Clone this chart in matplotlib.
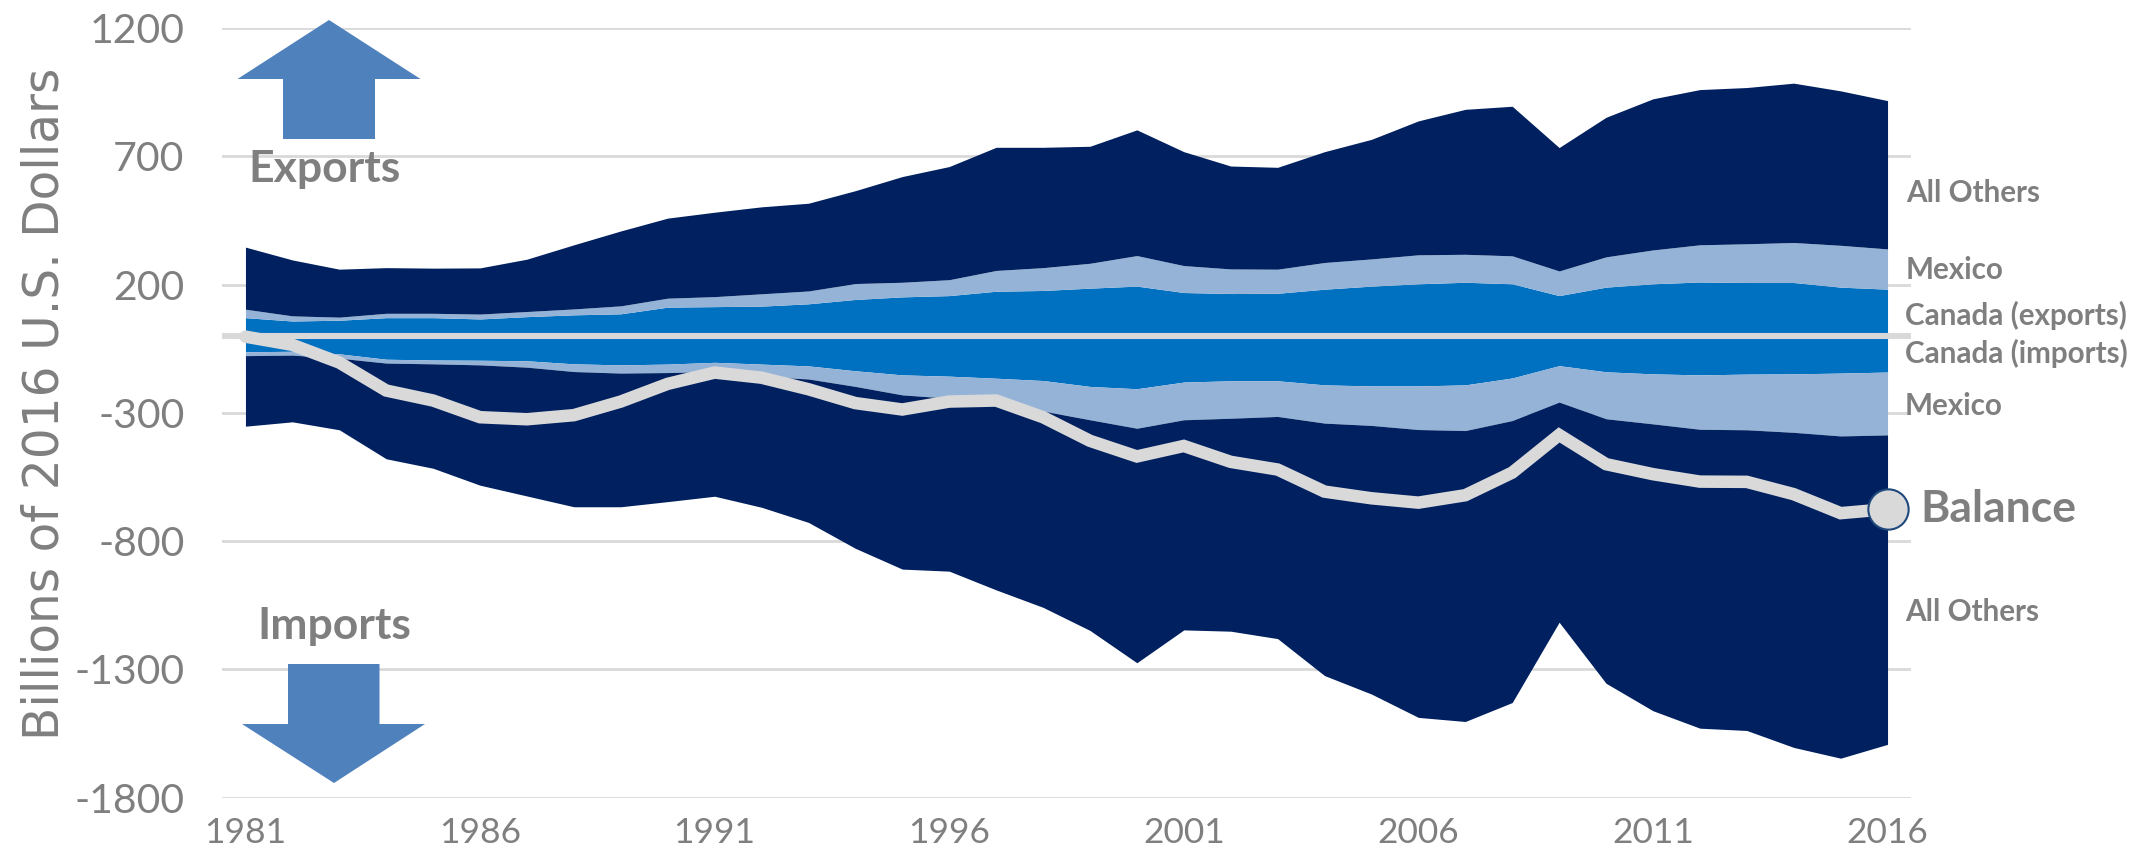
import matplotlib
matplotlib.use("Agg")
import matplotlib.pyplot as plt
from matplotlib.patches import Polygon

W, H = 2154, 857

years = list(range(1981, 2017))

# edges of the stacked bands, billions of 2016 dollars
exports_canada = [71, 58, 61, 71, 71, 66, 75, 82, 86, 112, 114, 116, 125, 142, 152, 157, 174, 177,
                  186, 194, 169, 165, 166, 182, 194, 203, 209, 203, 157, 190, 203, 210, 208, 208, 190, 182]
exports_mexico = [104, 78, 73, 88, 88, 85, 95, 105, 117, 147, 153, 164, 175, 204, 209, 219, 255, 266,
                  283, 313, 274, 261, 260, 286, 300, 316, 318, 312, 253, 308, 335, 355, 359, 364, 353, 339]
exports_total = [346, 296, 260, 266, 264, 265, 299, 355, 409, 459, 482, 503, 517, 566, 621, 660, 735, 735,
                 739, 803, 718, 662, 657, 718, 766, 838, 883, 895, 734, 852, 924, 960, 968, 985, 955, 917]
imports_canada = [-62, -60, -70, -91, -94, -95, -97, -109, -113, -110, -103, -110, -117, -136, -152, -157, -165, -174,
                  -197, -206, -180, -175, -175, -191, -195, -195, -191, -164, -116, -140, -148, -152, -149, -148, -145, -141]
imports_mexico = [-77, -75, -87, -106, -109, -113, -122, -139, -145, -143, -139, -158, -168, -197, -230, -243, -262, -293,
                  -327, -360, -327, -321, -314, -340, -349, -365, -369, -330, -258, -323, -343, -364, -366, -376, -390, -386]
imports_total = [-352, -335, -366, -479, -516, -582, -624, -666, -666, -646, -625, -668, -727, -828, -909, -917, -990, -1058,
                 -1148, -1274, -1146, -1151, -1180, -1324, -1396, -1487, -1503, -1429, -1116, -1354, -1461, -1529, -1538, -1604, -1646, -1592]
balance = [-3, -35, -104, -213, -252, -317, -325, -309, -256, -187, -143, -163, -208, -262, -287, -256, -252, -317,
           -409, -470, -429, -491, -521, -607, -633, -650, -621, -533, -386, -500, -539, -568, -569, -617, -691, -675]

y_ticks = [1200, 700, 200, -300, -800, -1300, -1800]
x_ticks = [1981, 1986, 1991, 1996, 2001, 2006, 2011, 2016]

NAVY = "#002060"
BLUE = "#0070C0"
LIGHT = "#95B3D7"
GRID = "#D9D9D9"
GREY = "#7F7F7F"
ARROW = "#4F81BD"

plt.rcParams["font.family"] = ["Lato", "DejaVu Sans"]
plt.rcParams["axes.unicode_minus"] = False

fig = plt.figure(figsize=(W / 100, H / 100), dpi=100)
ax = fig.add_axes([222 / W, 1 - 797.7 / H, (1911 - 222) / W, (797.7 - 28) / H])

ax.fill_between(years, 0, exports_canada, color=BLUE, lw=0, zorder=2)
ax.fill_between(years, exports_canada, exports_mexico, color=LIGHT, lw=0, zorder=2)
ax.fill_between(years, exports_mexico, exports_total, color=NAVY, lw=0, zorder=2)
ax.fill_between(years, 0, imports_canada, color=BLUE, lw=0, zorder=2)
ax.fill_between(years, imports_canada, imports_mexico, color=LIGHT, lw=0, zorder=2)
ax.fill_between(years, imports_mexico, imports_total, color=NAVY, lw=0, zorder=2)

ax.axhline(0, color=GRID, lw=4.4, zorder=3)
ax.plot(years, balance, color=GRID, lw=9, zorder=4, solid_capstyle="round", solid_joinstyle="miter")
ax.plot(years[-1], balance[-1], "o", ms=29, mfc=GRID, mec="#1F497D", mew=1.5, zorder=5, clip_on=False)

ax.set_xlim(1980.5, 2016.5)
ax.set_ylim(-1800, 1200)
ax.set_yticks(y_ticks)
ax.set_xticks(x_ticks)
ax.tick_params(axis="y", length=0, pad=27, labelsize=29.5, labelcolor=GREY)
ax.tick_params(axis="x", length=0, pad=14, labelsize=25.5, labelcolor=GREY)
ax.grid(axis="y", color=GRID, lw=2, zorder=1)
ax.set_axisbelow(True)
for spine in ax.spines.values():
    spine.set_visible(False)

# overlay in image pixel coordinates for arrows and labels
over = fig.add_axes([0, 0, 1, 1], zorder=10)
over.set_xlim(0, W)
over.set_ylim(H, 0)
over.axis("off")

over.add_patch(Polygon([(329, 20), (420.5, 79), (375, 79), (375, 139), (283, 139), (283, 79), (237.5, 79)],
                       closed=True, fc=ARROW, ec="none"))
over.add_patch(Polygon([(288, 664), (379.5, 664), (379.5, 724), (425, 724), (334, 783), (242, 724), (288, 724)],
                       closed=True, fc=ARROW, ec="none"))

over.text(325, 182, "Exports", fontsize=32, fontweight="bold", color=GREY, ha="center", va="baseline")
over.text(334, 639, "Imports", fontsize=32, fontweight="bold", color=GREY, ha="center", va="baseline")
over.text(1920, 522, "Balance", fontsize=32, fontweight="bold", color=GREY, ha="left", va="baseline")
for x, y, label in [(1906, 202, "All Others"), (1906, 279, "Mexico"), (1905, 325, "Canada (exports)"),
                    (1905, 363, "Canada (imports)"), (1905, 415, "Mexico"), (1905, 621, "All Others")]:
    over.text(x, y, label, fontsize=21.3, fontweight="bold", color=GREY, ha="left", va="baseline")

over.text(45, 404, "Billions of 2016 U.S. Dollars", fontsize=35, color=GREY, rotation=90,
          ha="center", va="center", family="DejaVu Sans")

fig.savefig("out.png", dpi=100)
